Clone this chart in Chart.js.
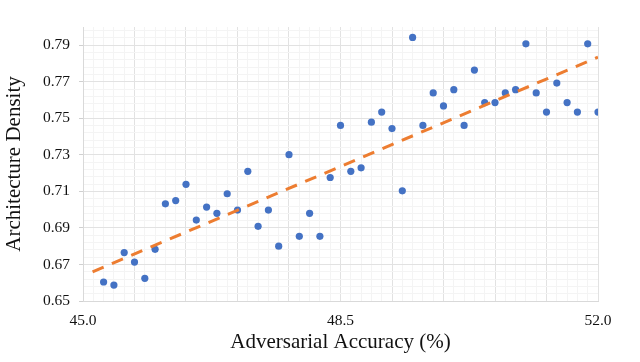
<!DOCTYPE html>
<html>
<head>
<meta charset="utf-8">
<script src="https://cdn.jsdelivr.net/npm/chart.js@4"></script>
<style>
  html, body { margin: 0; padding: 0; background: #fff; }
  #wrap { width: 640px; height: 362px; }
</style>
</head>
<body>
<div id="wrap"><canvas id="chart" width="640" height="362"></canvas></div>
<script>
// data
const accuracy = [45.28, 45.42, 45.56, 45.70, 45.84, 45.98, 46.12, 46.26, 46.40, 46.54,
    46.68, 46.82, 46.96, 47.10, 47.24, 47.38, 47.52, 47.66, 47.80, 47.94,
    48.08, 48.22, 48.36, 48.50, 48.64, 48.78, 48.92, 49.06, 49.20, 49.34,
    49.48, 49.62, 49.76, 49.90, 50.04, 50.18, 50.32, 50.46, 50.60, 50.74,
    50.88, 51.02, 51.16, 51.30, 51.44, 51.58, 51.72, 51.86, 52.00];
const density = [0.6604, 0.6587, 0.6765, 0.6713, 0.6624, 0.6783, 0.7032, 0.7050, 0.7139, 0.6943,
    0.7014, 0.6980, 0.7087, 0.6998, 0.7210, 0.6909, 0.6998, 0.6800, 0.7301, 0.6854,
    0.6980, 0.6854, 0.7176, 0.7461, 0.7210, 0.7229, 0.7479, 0.7534, 0.7444, 0.7103,
    0.7943, 0.7461, 0.7639, 0.7568, 0.7657, 0.7461, 0.7764, 0.7586, 0.7586, 0.7639,
    0.7657, 0.7908, 0.7639, 0.7534, 0.7693, 0.7586, 0.7534, 0.7908, 0.7534];
const trendX = [45.13, 52.0];
const trendY = [0.666, 0.7835];

const xTickLabels = ['45.0', '48.5', '52.0'];
const yTickLabels = ['0.65', '0.67', '0.69', '0.71', '0.73', '0.75', '0.77', '0.79'];
const xMinorStep = 0.14;   // 5 minor per 0.7 major
const yMinorStep = 0.004;  // 5 minor per 0.02 major

const FONT = "'Liberation Serif', 'Times New Roman', serif";
const MAJOR = '#e2e2e2';
const MINOR = '#f4f4f4';

function buildTicks(min, max, step) {
    const out = [];
    for (let k = 0; min + k * step <= max + 1e-9; k++) {
        out.push({ value: +(min + k * step).toFixed(4), k: k });
    }
    return out;
}

const ctx = document.getElementById('chart').getContext('2d');
new Chart(ctx, {
    type: 'scatter',
    data: {
        datasets: [
            {
                type: 'line',
                data: trendX.map((x, i) => ({ x: x, y: trendY[i] })),
                borderColor: '#ED7D31',
                borderWidth: 3,
                borderDash: [12, 9],
                borderCapStyle: 'butt',
                pointRadius: 0,
                fill: false,
                order: 0
            },
            {
                data: accuracy.map((x, i) => ({ x: x, y: density[i] })),
                backgroundColor: '#4472C4',
                borderColor: '#4472C4',
                borderWidth: 0,
                pointRadius: 3.6,
                order: 1
            }
        ]
    },
    options: {
        responsive: false,
        animation: false,
        layout: { padding: { top: 27, right: 42, left: 0, bottom: 0 } },
        plugins: { legend: { display: false }, tooltip: { enabled: false } },
        scales: {
            x: {
                type: 'linear',
                min: 45,
                max: 52,
                afterBuildTicks: axis => { axis.ticks = buildTicks(45, 52, xMinorStep); },
                afterFit: axis => { axis.height = 61; },
                border: { color: '#d9d9d9', width: 1 },
                grid: {
                    color: c => (c.index % 5 === 0 ? MAJOR : MINOR),
                    tickColor: 'rgba(0,0,0,0)',
                    tickLength: 4
                },
                ticks: {
                    autoSkip: false,
                    maxRotation: 0,
                    padding: 7,
                    color: '#111',
                    font: { family: FONT, size: 15.5 },
                    callback: (v, i) => (i % 25 === 0 ? xTickLabels[i / 25] : '')
                },
                title: {
                    display: true,
                    text: 'Adversarial Accuracy (%)',
                    color: '#111',
                    font: { family: FONT, size: 21 },
                    padding: { top: 0, bottom: 7 }
                }
            },
            y: {
                type: 'linear',
                min: 0.65,
                max: 0.80,
                afterBuildTicks: axis => { axis.ticks = buildTicks(0.65, 0.7995, yMinorStep); },
                afterFit: axis => { axis.width = 83; },
                border: { color: '#d9d9d9', width: 1 },
                grid: {
                    color: c => (c.index % 5 === 0 ? MAJOR : MINOR),
                    tickColor: c => (c.index % 5 === 0 ? '#d0d0d0' : 'rgba(0,0,0,0)'),
                    tickLength: 4
                },
                ticks: {
                    autoSkip: false,
                    padding: 9,
                    color: '#111',
                    font: { family: FONT, size: 15.5 },
                    callback: (v, i) => (i % 5 === 0 ? yTickLabels[i / 5] : '')
                },
                title: {
                    display: true,
                    text: 'Architecture Density',
                    color: '#111',
                    font: { family: FONT, size: 21 },
                    padding: { top: 2, bottom: 4 }
                }
            }
        }
    }
});
</script>
</body>
</html>
